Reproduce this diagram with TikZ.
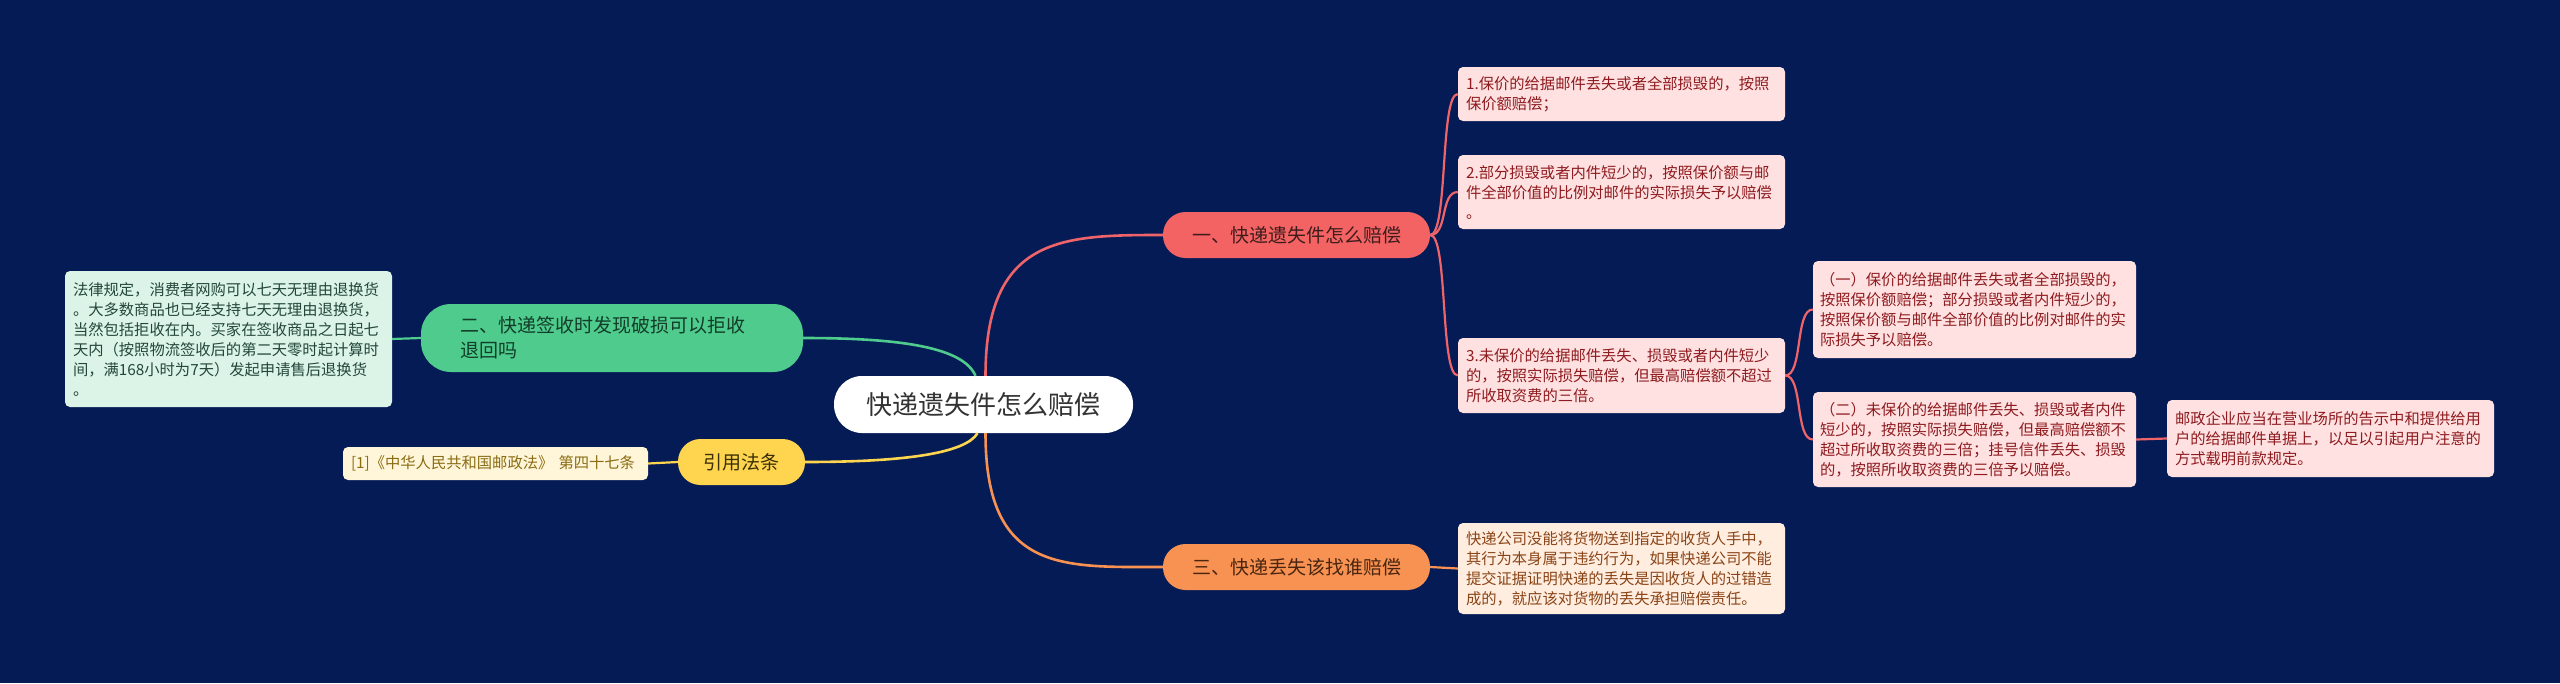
\documentclass[tikz,border=0pt]{standalone}
\usepackage{fontspec}
\setmainfont{Noto Sans CJK SC}
\usetikzlibrary{calc}
\definecolor{bg}{HTML}{051B56}
\definecolor{redc}{HTML}{F46363}
\definecolor{redline}{HTML}{EE6468}
\definecolor{redtxt}{HTML}{3E1C1C}
\definecolor{pinkfill}{HTML}{FFE1E1}
\definecolor{pinktxt}{HTML}{8E1B1F}
\definecolor{greenc}{HTML}{4ECB8D}
\definecolor{greentxt}{HTML}{123D28}
\definecolor{greenfill}{HTML}{DCF4E8}
\definecolor{greenleaftxt}{HTML}{24463A}
\definecolor{yellowc}{HTML}{FFD54F}
\definecolor{yellowtxt}{HTML}{3A2F05}
\definecolor{yellowfill}{HTML}{FFF6DA}
\definecolor{yellowleaftxt}{HTML}{8A6C12}
\definecolor{orangec}{HTML}{F89252}
\definecolor{orangetxt}{HTML}{4A2510}
\definecolor{orangefill}{HTML}{FFEDE0}
\definecolor{orangeleaftxt}{HTML}{8A4416}
\newcommand\leaffnt{\fontsize{15.3pt}{20pt}\selectfont}
\newcommand\branchfnt{\fontsize{19pt}{25pt}\selectfont}
\newcommand\centerfnt{\fontsize{26pt}{30pt}\selectfont}
\begin{document}
\begin{tikzpicture}[x=1pt,y=-1pt,
  centerbox/.style={fill=white, rounded corners=28pt, minimum width=299pt, minimum height=57pt, inner sep=0pt, font=\centerfnt, text=black!80},
  branchbox/.style={rounded corners=22.5pt, minimum width=267pt, minimum height=46pt, inner sep=0pt, font=\branchfnt},
  leafbox/.style={rounded corners=5pt, align=left, inner xsep=8pt, inner ysep=6pt, font=\leaffnt},
  pinkleaf/.style={leafbox, fill=pinkfill, text=pinktxt},
  mainline/.style={line width=2.6pt},
  leafline/.style={line width=2.2pt}
]
\fill[bg] (0,0) rectangle (2560,683);
\useasboundingbox (0,0) rectangle (2560,683);

% center
\node[centerbox] (c) at (983.5,404.5) {快递遗失件怎么赔偿};

% branches
\node[branchbox, fill=redc, text=redtxt] (b1) at (1296.5,235) {一、快递遗失件怎么赔偿};
\node[branchbox, fill=orangec, text=orangetxt] (b3) at (1296.5,567) {三、快递丢失该找谁赔偿};
\node[rounded corners=30pt, fill=greenc, text=greentxt, font=\branchfnt, align=left, text width=304pt, inner xsep=39pt, inner ysep=0pt, minimum height=68pt] (b2) at (612,338) {二、快递签收时发现破损可以拒收\\退回吗};
\node[rounded corners=22.5pt, fill=yellowc, text=yellowtxt, font=\branchfnt, minimum width=127pt, minimum height=46pt, inner sep=0pt] (by) at (741.5,462) {引用法条};

% leaves of branch 1
\node[pinkleaf, text width=311pt, minimum height=54pt] (l1) at (1621.5,94) {1.保价的给据邮件丢失或者全部损毁的，按照\\保价额赔偿；};
\node[pinkleaf, text width=311pt, minimum height=74pt] (l2) at (1621.5,192) {2.部分损毁或者内件短少的，按照保价额与邮\\件全部价值的比例对邮件的实际损失予以赔偿\\。};
\node[pinkleaf, text width=311pt, minimum height=75pt] (l3) at (1621.5,375.5) {3.未保价的给据邮件丢失、损毁或者内件短少\\的，按照实际损失赔偿，但最高赔偿额不超过\\所收取资费的三倍。};
\node[pinkleaf, text width=309pt, inner xsep=7pt, minimum height=97pt] (l3a) at (1974.5,309.5) {（一）保价的给据邮件丢失或者全部损毁的，\\按照保价额赔偿；部分损毁或者内件短少的，\\按照保价额与邮件全部价值的比例对邮件的实\\际损失予以赔偿。};
\node[pinkleaf, text width=309pt, inner xsep=7pt, minimum height=95pt] (l3b) at (1974.5,439.5) {（二）未保价的给据邮件丢失、损毁或者内件\\短少的，按照实际损失赔偿，但最高赔偿额不\\超过所收取资费的三倍；挂号信件丢失、损毁\\的，按照所收取资费的三倍予以赔偿。};
\node[pinkleaf, text width=311pt, minimum height=77pt] (l3b1) at (2330.5,438.5) {邮政企业应当在营业场所的告示中和提供给用\\户的给据邮件单据上，以足以引起用户注意的\\方式载明前款规定。};

% leaf of branch 3
\node[leafbox, fill=orangefill, text=orangeleaftxt, text width=311pt, minimum height=91pt] (l4) at (1621.5,568.5) {快递公司没能将货物送到指定的收货人手中，\\其行为本身属于违约行为，如果快递公司不能\\提交证据证明快递的丢失是因收货人的过错造\\成的，就应该对货物的丢失承担赔偿责任。};

% leaf of branch 2
\node[leafbox, fill=greenfill, text=greenleaftxt, text width=311pt, minimum height=136pt] (lg) at (228.5,339) {法律规定，消费者网购可以七天无理由退换货\\。大多数商品也已经支持七天无理由退换货，\\当然包括拒收在内。买家在签收商品之日起七\\天内（按照物流签收后的第二天零时起计算时\\间，满168小时为7天）发起申请售后退换货\\。};

% reference leaf
\node[leafbox, fill=yellowfill, text=yellowleaftxt, text width=289pt, minimum height=33pt, inner ysep=0pt] (ly) at (495.5,463.5) {[1]《中华人民共和国邮政法》 第四十七条};

% main connectors
\draw[mainline, draw=redline] ($(c.north)+(2,0)$) .. controls +(0,-140) and +(-100,0) .. (b1.west);
\draw[mainline, draw=orangec] ($(c.south)+(2,0)$) .. controls +(0,140) and +(-100,0) .. (b3.west);
\draw[mainline, draw=greenc] (b2.east) .. controls +(100,0) and +(-12,-28) .. ($(c.north)+(-8,0)$);
\draw[mainline, draw=yellowc] (by.east) .. controls +(100,0) and +(-12,20) .. ($(c.south)+(-6,0)$);

% leaf connectors
\foreach \t in {l1,l2,l3}
  \draw[leafline, draw=redline] (b1.east) .. controls +(18,0) and +(-18,0) .. (\t.west);
\foreach \t in {l3a,l3b}
  \draw[leafline, draw=redline] (l3.east) .. controls +(18,0) and +(-18,0) .. (\t.west);
\draw[leafline, draw=redline] (l3b.east) -- (l3b1.west);
\draw[leafline, draw=orangec] (b3.east) -- (l4.west);
\draw[leafline, draw=greenc] (b2.west) -- (lg.east);
\draw[leafline, draw=yellowc] (by.west) -- (ly.east);
\end{tikzpicture}
\end{document}
